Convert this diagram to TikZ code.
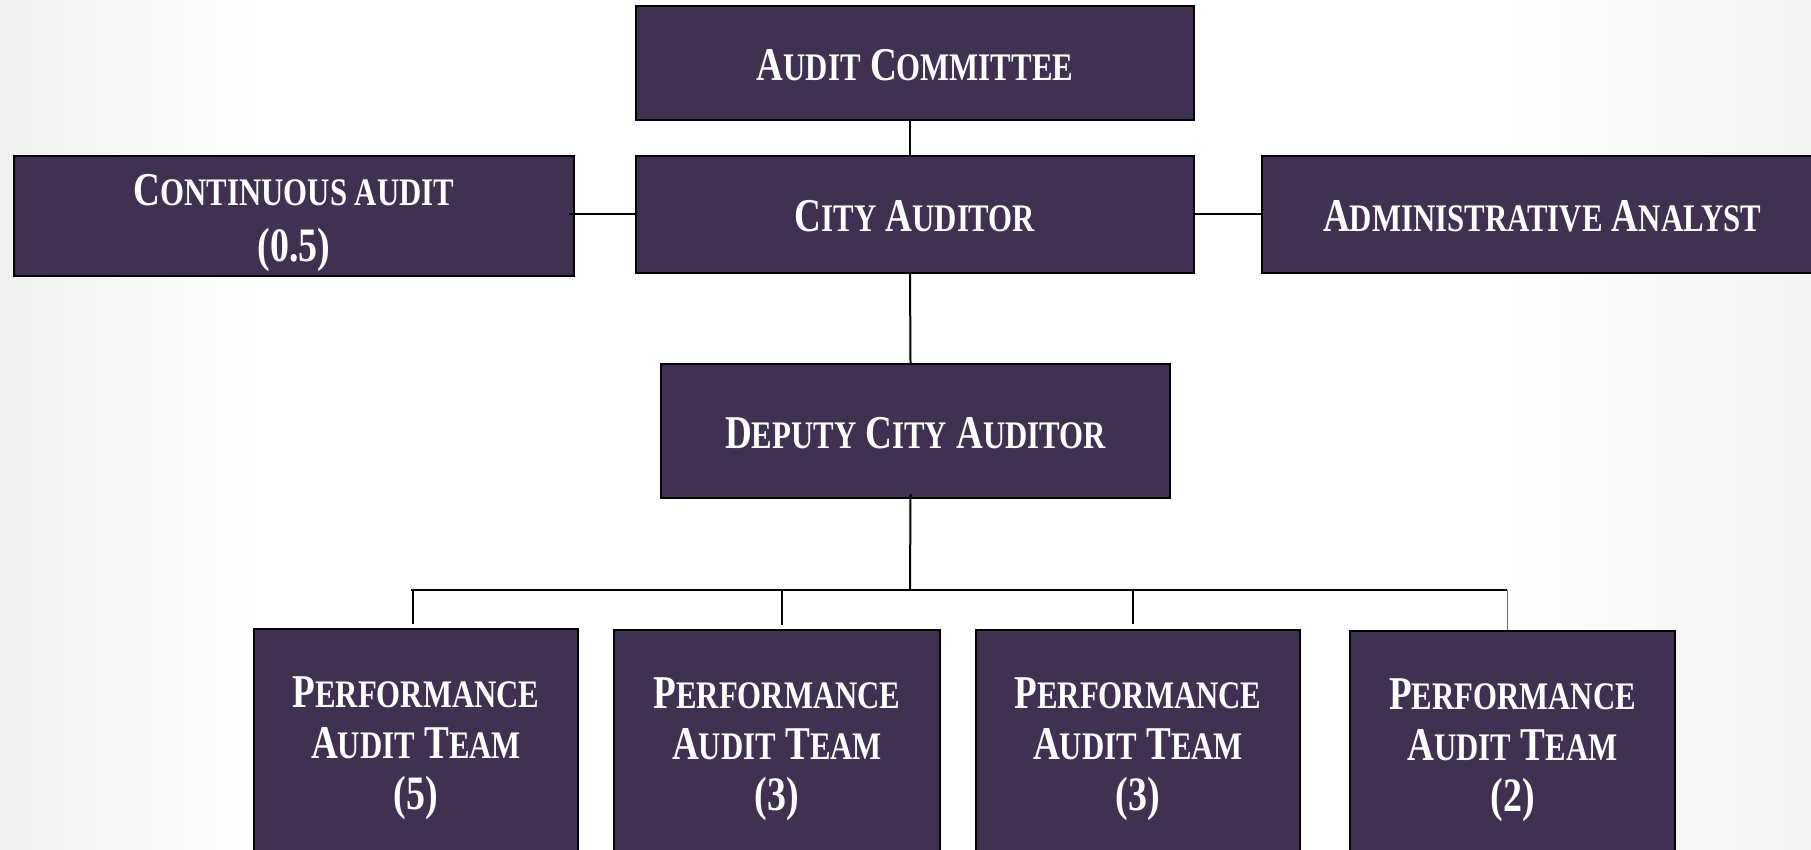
\documentclass[tikz,border=0pt]{standalone}
\usepackage{fontspec}
\setmainfont{Liberation Serif}[FakeStretch=0.79]
\definecolor{boxfill}{RGB}{64,49,82}
\definecolor{bluelink}{RGB}{68,114,196}
\newcommand\bigsm[2]{{\fontsize{47}{54}\selectfont #1}{\fontsize{39}{54}\selectfont #2}}
\newcommand\fullsz[1]{{\fontsize{48}{54}\selectfont #1}}
\newcommand\lift[1]{\rule{0pt}{#1}}
\tikzset{
  orgbox/.style={draw=black, line width=2pt, fill=boxfill, text=white, inner sep=0pt,
    align=center, font=\bfseries\fontsize{47}{54}\selectfont},
  teambox/.style={orgbox, font=\bfseries\fontsize{47}{51}\selectfont},
  link/.style={draw=black, line width=2pt},
}
\begin{document}
\begin{tikzpicture}[x=1pt,y=-1pt]
\useasboundingbox (0,0) rectangle (1811,850);
\fill[white] (0,0) rectangle (1811,850);
\shade[left color=black!6, right color=white] (0,0) rectangle (260,850);
\shade[left color=white, right color=black!5] (1500,0) rectangle (1811,850);

\node[orgbox, minimum width=558pt, minimum height=114pt] (ac) at (915,63) {\lift{36pt}\bigsm{A}{UDIT} \bigsm{C}{OMMITTEE}};
\node[orgbox, minimum width=558pt, minimum height=117pt] (ca) at (915,214.5) {\lift{34pt}\bigsm{C}{ITY} \bigsm{A}{UDITOR}};
\node[orgbox, minimum width=560pt, minimum height=120pt] (cont) at (294,216) {\lift{45pt}\bigsm{C}{ONTINUOUS AUDIT}\\[2pt]\fullsz{(0.5)}};
\node[orgbox, minimum width=560pt, minimum height=117pt] (admin) at (1542,214.5) {\lift{34pt}\bigsm{A}{DMINISTRATIVE} \bigsm{A}{NALYST}};
\node[orgbox, minimum width=509pt, minimum height=134pt] (dep) at (915.5,431) {\lift{36pt}\bigsm{D}{EPUTY} \bigsm{C}{ITY} \bigsm{A}{UDITOR}};

\node[teambox, minimum width=324pt, minimum height=231pt] (p1) at (416,744.5) {\lift{39pt}\bigsm{P}{ERFORMANCE}\\\bigsm{A}{UDIT} \bigsm{T}{EAM}\\\fullsz{(5)}};
\node[teambox, minimum width=326pt, minimum height=231pt] (p2) at (777,745.5) {\lift{39pt}\bigsm{P}{ERFORMANCE}\\\bigsm{A}{UDIT} \bigsm{T}{EAM}\\\fullsz{(3)}};
\node[teambox, minimum width=324pt, minimum height=231pt] (p3) at (1138,745.5) {\lift{39pt}\bigsm{P}{ERFORMANCE}\\\bigsm{A}{UDIT} \bigsm{T}{EAM}\\\fullsz{(3)}};
\node[teambox, minimum width=325pt, minimum height=231pt] (p4) at (1512.5,746.5) {\lift{39pt}\bigsm{P}{ERFORMANCE}\\\bigsm{A}{UDIT} \bigsm{T}{EAM}\\\fullsz{(2)}};

\coordinate (busL) at (411,590);
\coordinate (busR) at (1507,590);
\coordinate (busM) at (910,590);

\draw[link] ([xshift=-5pt]ac.south) -- ([xshift=-5pt]ca.north);
\draw[link] ([xshift=-5pt]ca.south) -- ([xshift=-5pt]dep.north);
\draw[link] (ca.west) -- ([xshift=-6pt]ca.west -| cont.east);
\draw[link] (ca.east) -- (admin.west);
\draw[link] ([xshift=-5pt,yshift=5pt]dep.south) -- (busM);
\draw[link] (busL) -- (busR);
\draw[link] ([xshift=-3pt,yshift=4pt]p1.north) -- ([xshift=-3pt]p1.north |- busL);
\draw[link] ([xshift=5pt,yshift=4pt]p2.north) -- ([xshift=5pt]p2.north |- busL);
\draw[link] ([xshift=-5pt,yshift=5pt]p3.north) -- ([xshift=-5pt]p3.north |- busL);
\draw[draw=bluelink, line width=1pt] ([xshift=-5.5pt]p4.north) -- ([xshift=-5.5pt]p4.north |- busL);
\end{tikzpicture}
\end{document}
